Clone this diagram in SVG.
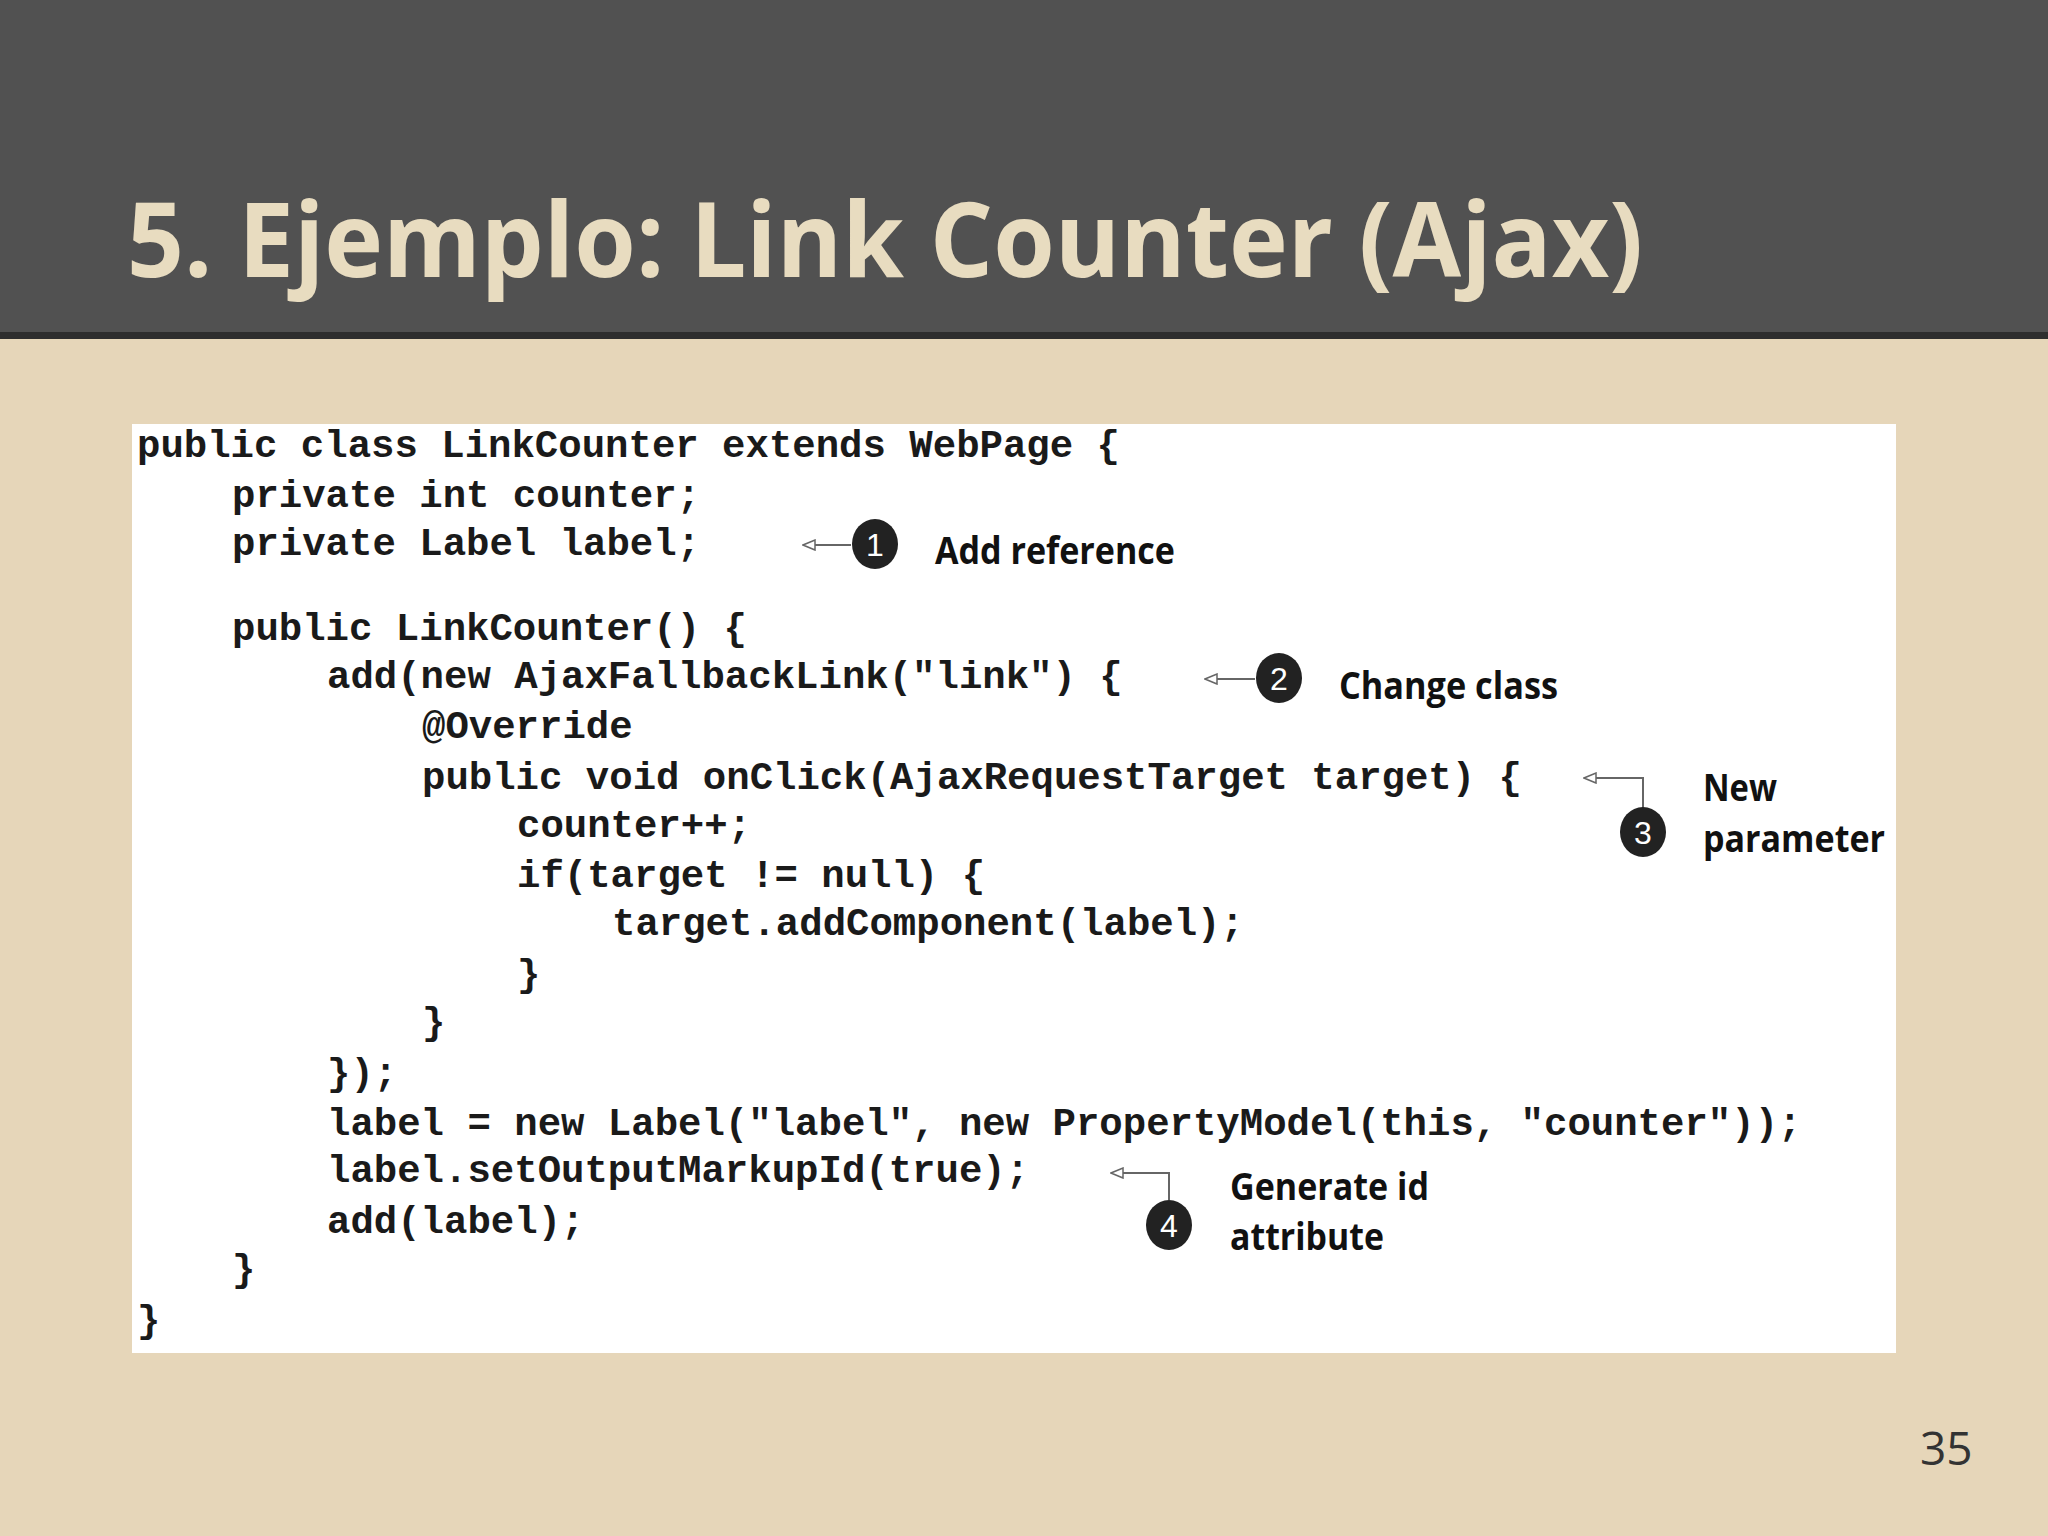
<svg xmlns="http://www.w3.org/2000/svg" width="2048" height="1536" viewBox="0 0 2048 1536">
<defs>
<style>
.code{font-family:"Liberation Mono",monospace;font-weight:bold;font-size:39px;fill:#1a1a1a;white-space:pre}
.note{font-family:"Open Sans","Liberation Sans",sans-serif;font-weight:bold;font-size:37px;fill:#111}
.num{font-family:"Liberation Sans",sans-serif;font-size:32px;fill:#fff;text-anchor:middle}
.lead{fill:none;stroke:#666;stroke-width:2}
</style>
<marker id="tri" viewBox="0 0 14 12" refX="13" refY="6" markerWidth="14" markerHeight="12" markerUnits="userSpaceOnUse" orient="auto">
<path d="M1,1 L13,6 L1,11 Z" fill="#fff" stroke="#666" stroke-width="1.5"/>
</marker>
</defs>
<rect width="2048" height="1536" fill="#e6d6b9"/>
<rect width="2048" height="334" fill="#515151"/>
<rect y="332" width="2048" height="7" fill="#2e2e2e"/>
<text x="127" y="277" font-family="Open Sans, sans-serif" font-weight="bold" font-size="104" fill="#e8dcc0" textLength="1516" lengthAdjust="spacingAndGlyphs">5. Ejemplo: Link Counter (Ajax)</text>
<g id="code">
<rect x="132" y="424" width="1764" height="929" fill="#fff"/>
<text class="code" x="137" y="457">public class LinkCounter extends WebPage {</text>
<text class="code" x="232" y="507">private int counter;</text>
<text class="code" x="232" y="555">private Label label;</text>
<text class="code" x="232" y="640">public LinkCounter() {</text>
<text class="code" x="327" y="688">add(new AjaxFallbackLink("link") {</text>
<text class="code" x="422" y="738">@Override</text>
<text class="code" x="422" y="789">public void onClick(AjaxRequestTarget target) {</text>
<text class="code" x="517" y="837">counter++;</text>
<text class="code" x="517" y="887">if(target != null) {</text>
<text class="code" x="612" y="935">target.addComponent(label);</text>
<text class="code" x="517" y="986">}</text>
<text class="code" x="422" y="1034">}</text>
<text class="code" x="327" y="1085">});</text>
<text class="code" x="327" y="1135">label = new Label("label", new PropertyModel(this, "counter"));</text>
<text class="code" x="327" y="1182">label.setOutputMarkupId(true);</text>
<text class="code" x="327" y="1233">add(label);</text>
<text class="code" x="232" y="1281">}</text>
<text class="code" x="137" y="1332">}</text>
</g>
<g id="connectors">
<path class="lead" d="M851,545 L803,545" marker-end="url(#tri)"/>
<path class="lead" d="M1255,679 L1205,679" marker-end="url(#tri)"/>
<path class="lead" d="M1643,808 L1643,778 L1584,778" marker-end="url(#tri)"/>
<path class="lead" d="M1169,1200 L1169,1173 L1111,1173" marker-end="url(#tri)"/>
</g>
<g id="c1"><ellipse cx="875" cy="544" rx="23" ry="25" fill="#222"/><text class="num" x="875" y="556">1</text>
<text class="note" x="935" y="564" textLength="240" lengthAdjust="spacingAndGlyphs">Add reference</text></g>
<g id="c2"><ellipse cx="1279" cy="678" rx="23" ry="25" fill="#222"/><text class="num" x="1279" y="690">2</text>
<text class="note" x="1339" y="699" textLength="219" lengthAdjust="spacingAndGlyphs">Change class</text></g>
<g id="c3"><ellipse cx="1643" cy="832" rx="23" ry="25" fill="#222"/><text class="num" x="1643" y="844">3</text>
<text class="note" x="1703" y="801" textLength="74" lengthAdjust="spacingAndGlyphs">New</text>
<text class="note" x="1703" y="852" textLength="182" lengthAdjust="spacingAndGlyphs">parameter</text></g>
<g id="c4"><ellipse cx="1169" cy="1225" rx="23" ry="25" fill="#222"/><text class="num" x="1169" y="1237">4</text>
<text class="note" x="1230" y="1200" textLength="199" lengthAdjust="spacingAndGlyphs">Generate id</text>
<text class="note" x="1230" y="1250" textLength="154" lengthAdjust="spacingAndGlyphs">attribute</text></g>
<text x="1920" y="1465" font-family="Open Sans, sans-serif" font-size="46" fill="#333">35</text>
</svg>
